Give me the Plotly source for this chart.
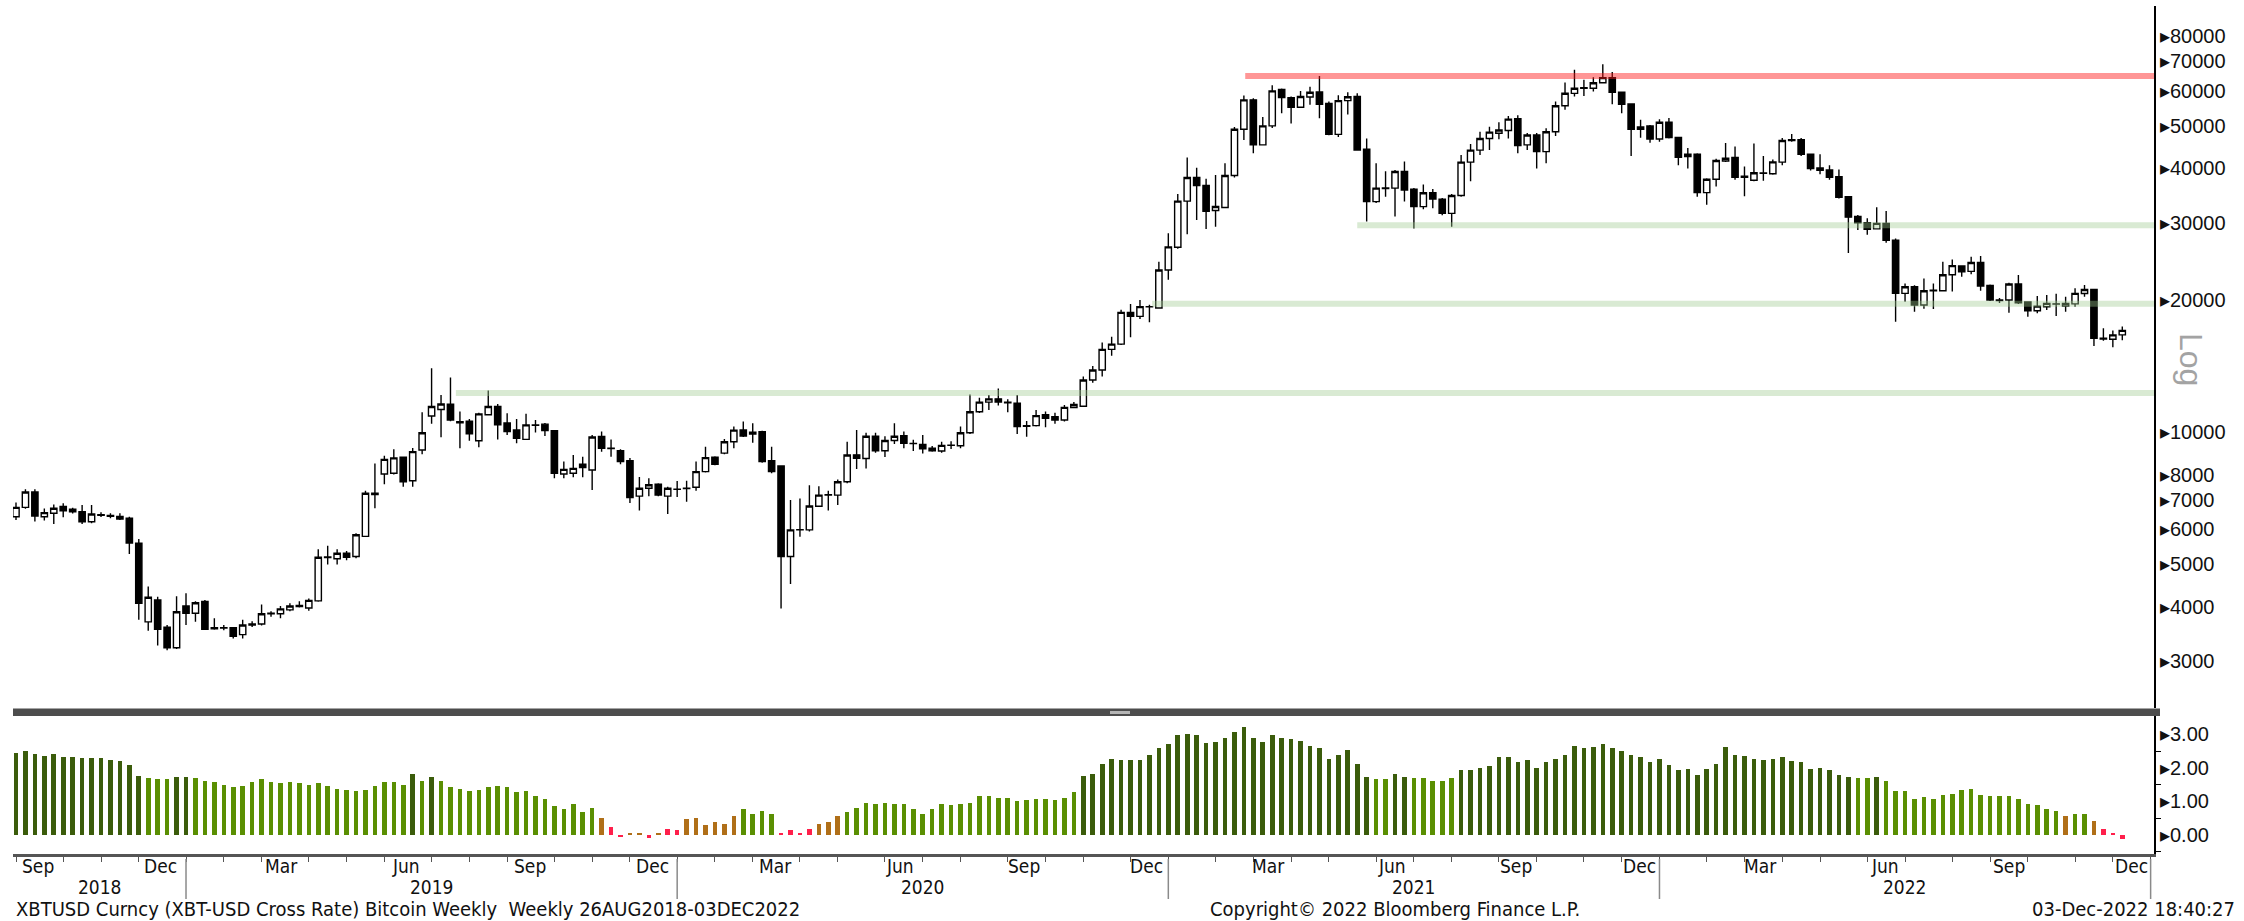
import pandas as pd
import plotly.graph_objects as go

# Weekly XBT-USD bars, each dated by the Sunday that closes the week
week_end = pd.date_range("2018-08-26", periods=224, freq="7D")

opens = [
    6410, 6730, 7300, 6410, 6525, 6760, 6670, 6580, 6240, 6480,
    6450, 6420, 6360, 5580, 3690, 4140, 3590, 3220, 4010, 3860,
    4110, 3580, 3570, 3580, 3450, 3630, 3650, 3850, 3850, 3930,
    4000, 3970, 4120, 5170, 5140, 5290, 5200, 5780, 7250, 8020,
    8050, 8760, 7740, 9100, 10880, 11250, 11570, 10550, 10580, 9550,
    10950, 11430, 10490, 10110, 9620, 10380, 10420, 10070, 8020, 8050,
    8440, 8190, 9770, 9180, 9060, 8600, 7140, 7440, 7600, 7140,
    7410, 7430, 7480, 8120, 8760, 8950, 9500, 10110, 9890, 10020,
    8600, 8370, 5200, 5980, 5980, 6770, 7180, 7180, 7700, 8870,
    8700, 9780, 9060, 9560, 9810, 9420, 9370, 9180, 9050, 9320,
    9300, 9960, 11120, 11700, 11900, 11700, 11640, 10300, 10340, 10950,
    10840, 10650, 11370, 11450, 13140, 13850, 15430, 15860, 18740, 18350,
    19300, 19170, 23410, 26380, 33620, 38050, 36500, 32000, 32500, 38440,
    49030, 57210, 45160, 49900, 60460, 57870, 55040, 58070, 59640, 56120,
    47720, 56970, 58220, 44140, 33530, 36000, 35990, 39260, 35800, 32660,
    35120, 33970, 31520, 34610, 41260, 43940, 46700, 48000, 48700, 51800,
    45160, 47570, 43600, 48400, 55470, 59200, 60800, 60800, 62600, 64300,
    59540, 56000, 49000, 49870, 46580, 50850, 46950, 42500, 42980, 35150,
    37700, 41500, 42300, 38100, 37500, 38900, 38800, 41260, 46200, 46400,
    43000, 40000, 39580, 38200, 34400, 31000, 30000, 29050, 29900, 27380,
    20710, 21440, 19480, 21000, 21000, 22830, 23900, 23240, 24360, 21600,
    20000, 20000, 21750, 19800, 18900, 19300, 19600, 19380, 19600, 20700,
    21130, 16360, 16280, 16650,
]

highs = [
    6910, 7400, 7400, 6690, 6830, 6880, 6720, 6820, 6820, 6560,
    6530, 6530, 6410, 5700, 4440, 4210, 3630, 4220, 4290, 4110,
    4140, 3760, 3630, 3590, 3730, 3700, 4040, 3900, 4010, 4070,
    4110, 4170, 5400, 5500, 5400, 5350, 5880, 7350, 8480, 8830,
    9130, 8780, 9200, 11100, 13970, 12150, 13310, 11130, 10710, 11060,
    12430, 11580, 11040, 10710, 11000, 10650, 10480, 10110, 8560, 8860,
    8780, 9850, 10020, 9620, 9130, 8720, 7900, 7840, 7640, 7500,
    7730, 7740, 8560, 9250, 8800, 9640, 10290, 10560, 10470, 10070,
    9250, 8400, 7000, 7050, 7560, 7520, 7350, 7790, 9500, 10100,
    9960, 9960, 9780, 10470, 10030, 9600, 9850, 9290, 9500, 9530,
    10290, 12180, 11970, 12150, 12560, 11870, 12150, 10600, 11230, 11130,
    11060, 11520, 11700, 13380, 14140, 16000, 16500, 19000, 19590, 19990,
    19500, 24450, 28400, 34880, 42250, 40040, 37780, 38560, 41000, 49640,
    58540, 57700, 52280, 61740, 60700, 58200, 59960, 61300, 64850, 56720,
    58600, 59540, 59220, 46700, 41000, 39300, 39580, 41400, 35990, 36700,
    35800, 34180, 34880, 42850, 45360, 48400, 49650, 50850, 52560, 52800,
    48050, 48050, 49300, 56700, 62700, 67000, 63600, 64400, 69000, 66200,
    59540, 56200, 51500, 50160, 51700, 52000, 47000, 44400, 43200, 37900,
    42000, 45600, 44800, 40300, 45500, 42600, 41800, 46800, 47800, 46800,
    43100, 43000, 40600, 39700, 34500, 31260, 30720, 32550, 31920, 27620,
    21820, 21600, 22400, 21820, 24450, 24750, 24000, 25100, 25200, 21700,
    20200, 21900, 22800, 19850, 20420, 20530, 20660, 20340, 21260, 21650,
    21200, 17240, 17050, 17400,
]

lows = [
    6300, 6680, 6250, 6280, 6170, 6390, 6520, 6170, 6190, 6400,
    6360, 6300, 5270, 3730, 3520, 3260, 3180, 3200, 3630, 3690,
    3540, 3540, 3530, 3380, 3380, 3590, 3620, 3790, 3760, 3900,
    3980, 3910, 4100, 4990, 4990, 5100, 5150, 5760, 6700, 7600,
    8000, 7500, 7500, 8900, 10440, 9730, 10580, 9180, 9550, 9230,
    10900, 9620, 9850, 9430, 9590, 9980, 9790, 7840, 7840, 7880,
    7880, 7370, 9020, 8780, 8440, 6890, 6620, 7140, 7140, 6500,
    7110, 6930, 7350, 8080, 8400, 8900, 9180, 9740, 9450, 8510,
    8050, 3960, 4500, 5770, 5930, 6750, 6620, 6820, 7640, 8230,
    8260, 8970, 8770, 9390, 9180, 9050, 8930, 9010, 8970, 9150,
    9180, 9900, 11050, 11230, 11500, 11100, 9900, 9750, 10290, 10250,
    10440, 10560, 11350, 11420, 12950, 13390, 14920, 15800, 16440, 18100,
    17800, 19100, 22230, 26170, 28240, 30460, 29020, 29400, 32400, 38050,
    46350, 43240, 45000, 49370, 53300, 50530, 54900, 55740, 51930, 47500,
    47100, 53000, 43800, 30200, 33300, 34400, 31000, 33530, 29100, 32200,
    32400, 31200, 29400, 34400, 37330, 42800, 43940, 46500, 46700, 43240,
    43940, 39880, 41000, 47300, 54300, 58200, 58400, 59800, 62400, 55900,
    53300, 42600, 46900, 45700, 45900, 46700, 40600, 39900, 34400, 33000,
    36300, 41300, 37600, 34500, 37300, 37400, 38600, 40600, 45900, 42600,
    39500, 38700, 37600, 34100, 25600, 28900, 28160, 29000, 27000, 17850,
    19810, 18800, 19100, 19080, 20900, 20900, 22600, 22900, 21000, 19900,
    19700, 18700, 19580, 18320, 18650, 18970, 18380, 18800, 19300, 20350,
    15700, 16150, 15600, 16200,
]

closes = [
    6730, 7300, 6430, 6550, 6700, 6610, 6580, 6240, 6500, 6460,
    6420, 6330, 5580, 4070, 4200, 3550, 3220, 3890, 3860, 4080,
    3550, 3560, 3580, 3420, 3630, 3650, 3850, 3860, 3950, 4010,
    4020, 4130, 5180, 5190, 5290, 5180, 5830, 7250, 7200, 8660,
    8730, 7700, 9020, 9960, 11430, 11580, 10650, 10500, 9900, 11000,
    11430, 10380, 10020, 9680, 10380, 10360, 10070, 8050, 8220, 8260,
    8300, 9740, 9180, 9170, 8560, 7090, 7440, 7580, 7180, 7440,
    7400, 7440, 8120, 8740, 8440, 9500, 10100, 9790, 9990, 8560,
    8120, 5200, 5980, 5990, 6780, 7180, 7190, 7700, 8860, 8710,
    9780, 9060, 9560, 9780, 9420, 9410, 9150, 9060, 9320, 9330,
    9960, 11120, 11700, 11900, 11700, 11650, 10290, 10340, 10900, 10750,
    10650, 11380, 11550, 13140, 13850, 15430, 15860, 18740, 18350, 19320,
    19310, 23410, 26440, 33620, 38050, 36500, 31880, 32680, 38440, 49030,
    57210, 45160, 49900, 59960, 57870, 55040, 58220, 59540, 55880, 47720,
    56970, 58160, 43940, 33530, 35990, 35900, 39260, 35640, 32660, 35120,
    33970, 31520, 34610, 41260, 43940, 46700, 48300, 48850, 51700, 45000,
    47570, 43600, 48400, 55470, 59220, 60800, 61000, 62600, 64300, 59540,
    55900, 49000, 49600, 46580, 50850, 46950, 42300, 42980, 35150, 37700,
    41600, 42100, 38100, 38300, 39000, 38950, 41300, 46200, 46400, 43000,
    39900, 39500, 38100, 34300, 30900, 30000, 29000, 29900, 27380, 20710,
    21440, 19480, 21000, 21050, 22830, 23960, 23200, 24360, 21530, 20000,
    19950, 21750, 19700, 18900, 19370, 19650, 19580, 19650, 20710, 21130,
    16360, 16300, 16650, 17050,
]

# Lower-panel oscillator, one value per weekly bar
oscillator = [
    2.43, 2.51, 2.40, 2.35, 2.40, 2.31, 2.31, 2.28, 2.28, 2.28,
    2.24, 2.19, 2.08, 1.77, 1.71, 1.66, 1.66, 1.74, 1.74, 1.69,
    1.62, 1.58, 1.50, 1.42, 1.46, 1.58, 1.66, 1.58, 1.54, 1.58,
    1.54, 1.50, 1.54, 1.46, 1.38, 1.35, 1.31, 1.35, 1.46, 1.58,
    1.58, 1.50, 1.82, 1.62, 1.74, 1.62, 1.42, 1.38, 1.31, 1.35,
    1.42, 1.46, 1.42, 1.27, 1.31, 1.15, 1.07, 0.87, 0.76, 0.92,
    0.68, 0.80, 0.50, 0.23, -0.07, 0.03, 0.03, -0.10, 0.03, 0.19,
    0.15, 0.47, 0.50, 0.30, 0.38, 0.34, 0.58, 0.76, 0.64, 0.72,
    0.64, 0.07, 0.15, 0.07, 0.19, 0.34, 0.38, 0.58, 0.68, 0.80,
    0.96, 0.92, 0.96, 0.92, 0.92, 0.76, 0.64, 0.76, 0.92, 0.88,
    0.92, 0.96, 1.15, 1.15, 1.11, 1.11, 1.00, 1.04, 1.07, 1.07,
    1.03, 1.11, 1.27, 1.77, 1.81, 2.12, 2.27, 2.23, 2.23, 2.23,
    2.39, 2.58, 2.70, 2.98, 3.02, 2.98, 2.74, 2.78, 2.89, 3.06,
    3.20, 2.89, 2.78, 2.98, 2.89, 2.85, 2.81, 2.66, 2.58, 2.27,
    2.39, 2.54, 2.12, 1.74, 1.66, 1.66, 1.81, 1.74, 1.70, 1.70,
    1.62, 1.62, 1.71, 1.92, 1.92, 2.00, 2.04, 2.31, 2.31, 2.16,
    2.23, 2.00, 2.16, 2.27, 2.39, 2.66, 2.58, 2.62, 2.70, 2.58,
    2.50, 2.39, 2.31, 2.16, 2.27, 2.08, 1.92, 1.96, 1.78, 1.96,
    2.12, 2.62, 2.39, 2.35, 2.27, 2.23, 2.27, 2.31, 2.19, 2.16,
    1.96, 2.00, 1.92, 1.78, 1.74, 1.70, 1.70, 1.74, 1.62, 1.31,
    1.31, 1.08, 1.12, 1.08, 1.20, 1.23, 1.35, 1.38, 1.20, 1.15,
    1.15, 1.15, 1.08, 0.92, 0.88, 0.76, 0.72, 0.58, 0.64, 0.62,
    0.42, 0.19, 0.07, -0.12,
]

price_ticks = [3000, 4000, 5000, 6000, 7000, 8000, 10000,
               20000, 30000, 40000, 50000, 60000, 70000, 80000]
osc_ticks = [0, 1, 2, 3]
osc_minor_ticks = [-0.5, 0.5, 1.5, 2.5]

# Support / resistance levels drawn across the price panel
level_values = [64800, 29600, 19600, 12270]
level_starts = ["2021-02-22", "2021-05-16", "2020-12-15", "2019-07-18"]

month_names = {3: "Mar", 6: "Jun", 9: "Sep", 12: "Dec"}
years = [2018, 2019, 2020, 2021, 2022]

bottom_left_text = "XBTUSD Curncy (XBT-USD Cross Rate) Bitcoin Weekly  Weekly 26AUG2018-03DEC2022"
copyright_text = "Copyright\u00a9 2022 Bloomberg Finance L.P."
stamp_text = "03-Dec-2022 18:40:27"

# ---------------------------------------------------------------- geometry
W, H = 2244, 921
PL, PR, PT, PB = 13, 2154, 6, 854          # plot box in pixels
MAIN_BOTTOM, LOWER_TOP = 708, 716          # panel split in pixels


def ypaper(px):
    return (PB - px) / (PB - PT)


def xpaper(px):
    return (px - PL) / (PR - PL)


x_lo = pd.Timestamp("2018-08-23 18:40")
x_hi = pd.Timestamp("2022-12-27 12:00")


def last_sunday(year, month):
    d = pd.Timestamp(year, month, 1) + pd.offsets.MonthEnd(0)
    return d - pd.Timedelta(days=(d.weekday() + 1) % 7)


LABEL_FONT = "Liberation Sans Narrow, DejaVu Sans Condensed, Arial Narrow, Liberation Sans, sans-serif"
AXIS_FONT = "Liberation Sans, Arial, sans-serif"
INK = "#111111"


def osc_color(v):
    if v >= 1.72:
        return "#3b5c0b"
    if v >= 0.6:
        return "#5a8f02"
    if v >= 0.25 or abs(v) < 0.05:
        return "#b06f18"
    return "#ff1f4b"


fig = go.Figure()

fig.add_trace(go.Candlestick(
    x=week_end, open=opens, high=highs, low=lows, close=closes,
    xaxis="x", yaxis="y", whiskerwidth=0,
    increasing=dict(line=dict(color="black", width=1.4), fillcolor="white"),
    decreasing=dict(line=dict(color="black", width=1.4), fillcolor="black"),
    showlegend=False, hoverinfo="skip",
))

level_colors = ["rgba(255,22,22,0.45)"] + ["rgba(156,200,141,0.39)"] * 3
for val, start, col in zip(level_values, level_starts, level_colors):
    fig.add_trace(go.Scatter(
        x=[pd.Timestamp(start), x_hi], y=[val, val], mode="lines",
        line=dict(color=col, width=6), xaxis="x", yaxis="y",
        showlegend=False, hoverinfo="skip",
    ))

fig.add_trace(go.Bar(
    x=week_end, y=oscillator, xaxis="x2", yaxis="y2",
    marker=dict(color=[osc_color(v) for v in oscillator], line=dict(width=0)),
    width=3.4 * 86400000, showlegend=False, hoverinfo="skip",
))

# --------------------------------------------------------------- axes
month_ticks = []
for y in years:
    for m in range(1, 13):
        if (y == 2018 and m < 8):
            continue
        month_ticks.append(last_sunday(y, m))

main_log_lo = 4 + (432 - MAIN_BOTTOM) / 438.5
main_log_hi = 4 + (432 - PT) / 438.5
osc_lo = (835 - PB) / 33.6
osc_hi = (835 - LOWER_TOP) / 33.6

fig.update_layout(
    width=W, height=H,
    margin=dict(l=PL, r=W - PR, t=PT, b=H - PB, pad=0),
    paper_bgcolor="white", plot_bgcolor="white",
    boxgap=0.05, boxgroupgap=0.3, bargap=0,
    xaxis=dict(domain=[0, 1], range=[x_lo, x_hi], anchor="y", matches="x2",
               showticklabels=False, showline=False, showgrid=False,
               zeroline=False, ticks="", rangeslider=dict(visible=False)),
    xaxis2=dict(domain=[0, 1], range=[x_lo, x_hi], anchor="y2",
                showline=True, linecolor="#555555", linewidth=3,
                showgrid=False, zeroline=False, ticks="outside",
                tickvals=month_ticks, ticklen=5, tickwidth=1.2,
                tickcolor="#555555", showticklabels=False),
    yaxis=dict(domain=[ypaper(MAIN_BOTTOM), 1], type="log",
               range=[main_log_lo, main_log_hi], side="right", anchor="x",
               showline=True, linecolor="black", linewidth=2,
               showgrid=False, zeroline=False, ticks="",
               tickvals=price_ticks,
               ticktext=["\u25b8" + str(v) for v in price_ticks],
               tickfont=dict(family=AXIS_FONT, size=20, color=INK),
               ticklabelstandoff=0),
    yaxis2=dict(domain=[0, ypaper(LOWER_TOP)], range=[osc_lo, osc_hi],
                side="right", anchor="x2",
                showline=True, linecolor="black", linewidth=2,
                showgrid=False, zeroline=False, ticks="",
                tickvals=osc_ticks,
                ticktext=["\u25b8" + f"{v:.2f}" for v in osc_ticks],
                tickfont=dict(family=AXIS_FONT, size=20, color=INK),
                ticklabelstandoff=0,
                minor=dict(tickvals=osc_minor_ticks, ticks="outside",
                           ticklen=5, tickcolor="black", tickwidth=1.2)),
)

shapes = []
# dark divider between the two panels, with its small grip in the middle
shapes.append(dict(type="rect", xref="paper", yref="paper",
                   x0=0, x1=xpaper(2160), y0=ypaper(716), y1=ypaper(708.5),
                   fillcolor="#4d4d4d", line=dict(width=0), layer="above"))
shapes.append(dict(type="rect", xref="paper", yref="paper",
                   x0=xpaper(1110), x1=xpaper(1130), y0=ypaper(714), y1=ypaper(711),
                   fillcolor="#b5b5b5", line=dict(width=0), layer="above"))

year_seps = [last_sunday(y, 12) for y in years]
for d in year_seps:
    shapes.append(dict(type="line", xref="x2", yref="paper",
                       x0=d, x1=d, y0=ypaper(859), y1=ypaper(899),
                       line=dict(color="#8a8a8a", width=1.5)))
fig.update_layout(shapes=shapes)

annotations = []
for y in years:
    for m, name in month_names.items():
        if y == 2018 and m < 9:
            continue
        annotations.append(dict(x=pd.Timestamp(y, m, 11), y=ypaper(866),
                                xref="x2", yref="paper", text=name,
                                showarrow=False, xanchor="center", yanchor="middle",
                                font=dict(family=LABEL_FONT, size=19, color=INK)))

prev = x_lo
for y, sep in zip(years, year_seps):
    mid = prev + (sep - prev) / 2
    annotations.append(dict(x=mid, y=ypaper(887), xref="x2", yref="paper",
                            text=str(y), showarrow=False, xanchor="center",
                            yanchor="middle",
                            font=dict(family=LABEL_FONT, size=19, color=INK)))
    prev = sep

annotations.append(dict(x=xpaper(14), y=ypaper(909), xref="paper", yref="paper",
                        text=bottom_left_text, showarrow=False, xanchor="left",
                        yanchor="middle",
                        font=dict(family=LABEL_FONT, size=20, color=INK)))
annotations.append(dict(x=xpaper(1208), y=ypaper(909), xref="paper", yref="paper",
                        text=copyright_text, showarrow=False, xanchor="left",
                        yanchor="middle",
                        font=dict(family=LABEL_FONT, size=20, color=INK)))
annotations.append(dict(x=xpaper(2237), y=ypaper(909), xref="paper", yref="paper",
                        text=stamp_text, showarrow=False, xanchor="right",
                        yanchor="middle",
                        font=dict(family=LABEL_FONT, size=20, color=INK)))
annotations.append(dict(x=xpaper(2191), y=ypaper(359), xref="paper", yref="paper",
                        text="Log", showarrow=False, textangle=90,
                        xanchor="center", yanchor="middle",
                        font=dict(family=AXIS_FONT, size=32, color="#a3a3a3")))
fig.update_layout(annotations=annotations)

fig.write_html("out.html")
